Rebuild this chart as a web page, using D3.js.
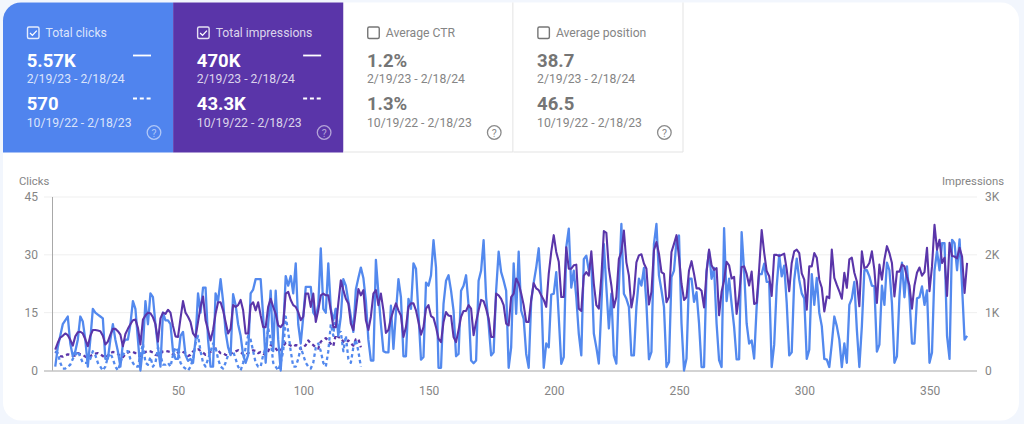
<!DOCTYPE html>
<html><head><meta charset="utf-8">
<script src="https://cdn.jsdelivr.net/npm/d3@7/dist/d3.min.js"></script>
<style>
html,body{margin:0;padding:0;background:#f2f6fd;width:1024px;height:424px;overflow:hidden;font-family:Roboto,sans-serif}
svg{display:block}
text{font-family:Roboto,sans-serif}
</style></head><body><svg id="c" width="1024" height="424"></svg>
<script>
const clicksCurrent=[
1,6,9,12,13,14,7,3.7,5,8,
14,12.7,8,1,8,16,15,14.5,14,13.5,
3,3,8,12,8,5,1,7,8,8,
12,18,16,8,0,6,18,12,20,19,
12,6,1,15,13,13,12,5,3,3,
9,10,4,2.5,3,2,8,20,15,21.5,
21.5,8,1,1,20,18,23.7,18,10,6,
4,19.8,17,12,9,4,2,4,20,21,
23.7,23.7,23.7,14,2,12,20.7,5,20.7,8,
0,10,24.5,22,24.5,20,27.8,12,7,14,
21.7,21.7,21.7,15,14,17,31.7,16,15,27.8,
16,13,16,9,14,23.7,22,18,14,10,
21,24,26.7,24,18,8,2.6,2.6,28.7,20,
12,5,4.7,4.7,16.8,5.6,15,23.7,19,3.7,
3.7,18.6,16,27.8,26.4,14.7,2.8,3.5,22.8,22,
24.7,33.8,26.7,0.7,0.7,17.3,23.3,24.7,20.7,15.5,
3.7,4.3,20.7,22,24.7,16.8,2.6,1.9,2.6,23.3,
25.9,33.8,19,12,3.9,4.7,20.7,30.8,25.5,23.3,
20.7,0.7,6,27.8,14.7,30.8,15.5,13.4,4.3,0.7,
18,22.8,26.7,31.7,20.7,0.7,7,6,19.7,19.9,
25.5,13.8,1.7,3.5,32,36.8,21.5,25.9,19,9.5,
3.9,28.9,29.8,25.9,28,9.6,6,1.8,16.5,32.8,
21.6,10.9,19.9,3.9,1.8,21.6,38,19.9,18.6,16.5,
3.9,3.9,16.5,23.8,22,26.6,17.3,2.9,4.8,32.8,
38,24.7,20.8,16.5,0.9,2.2,24.2,25.9,33.7,35,
12.2,0,3.1,23.8,23.8,17.8,20.3,12.2,0.9,0.9,
25.9,30.9,23.8,26.6,12.2,2.7,0.9,36.9,18,23.8,
17.3,11.3,2.9,2.9,35.9,25.9,12.2,7,7.8,3.1,
16.5,25,25,27.7,23,23,0.9,6.7,21.8,30,
24.4,27.2,17.5,3.9,4.7,23.5,29,23.5,20,18.7,
3,5.4,25,17,24,15,11.5,3,2.8,0.9,
7,14,11.5,8,0.9,7,2,17,18.7,23,
10.6,0.9,11.5,26,26,24.4,22,21.8,4.9,6.7,
22,17,28,26,17.5,2,3.7,19,28,19,
27,19,7,7,18.7,19,21.8,17,20.8,2,
4.7,26,31,26,33,33,9,3,33.9,33,
26,34,21.8,8,9];
const impressionsCurrent=[
360,480,570,600,640,610,530,430,590,660,
670,640,540,420,600,700,700,690,680,600,
450,500,620,720,720,680,620,420,630,720,
800,870,880,740,450,880,950,1000,990,920,
800,500,900,1000,980,1050,1000,770,590,580,
900,1200,1000,930,840,640,580,840,1100,1280,
870,700,520,700,980,1180,1180,1040,840,640,
720,1130,1100,1130,1220,1040,640,640,1130,1180,
1040,1180,950,750,750,1100,1240,1100,980,780,
750,810,1330,1360,1220,1130,1100,1010,870,930,
1330,1330,1100,1330,840,1040,1300,1330,1300,1300,
1040,750,750,1160,1560,1390,1240,1160,810,700,
1040,1410,1300,1390,870,700,930,1330,1390,1130,
1330,1040,650,700,900,1040,1160,1040,950,580,
750,1100,1160,1160,1040,840,620,750,1070,1130,
940,910,750,550,490,840,1010,950,940,580,
490,700,930,1030,1030,1130,1070,610,840,1040,
1220,1200,1070,900,580,580,1330,1300,1240,1130,
810,780,1270,1330,1590,1500,1330,1130,840,840,
1220,1510,1420,1390,1300,1220,1100,1670,2050,2340,
2050,1880,1270,1270,2130,1760,1760,1820,1830,1070,
1030,1640,1700,1640,2060,1500,1130,1070,1620,2410,
2380,1760,1470,1090,1270,1930,2050,2420,1870,1640,
1090,1330,1870,1990,2010,1850,1760,1140,1360,2080,
2220,2020,1700,1670,1180,1270,2050,2190,2340,1960,
1500,1220,1270,1730,1890,1670,1420,1420,1380,1090,
1700,2090,1820,1740,1770,955,1360,1560,1880,1820,
1590,1620,980,1300,1790,1800,1670,1470,1710,1150,
1170,1760,2430,2040,1720,1630,1290,2000,2000,1980,
2000,2020,1750,1370,1860,2060,2090,2030,1680,1570,
1050,1800,1800,2030,1950,1570,1430,1020,1280,1250,
2090,1600,1480,1370,1240,1690,1430,1920,1950,1690,
1540,1110,2060,1770,1790,1860,2060,1740,1170,1830,
1570,1920,2150,2030,1860,1280,1710,1710,1830,1800,
1620,1470,1070,1470,1690,1780,1640,1700,2120,1370,
1800,2520,2090,2260,1860,1950,1290,2210,1980,1970,
1940,2120,1970,1340,1860];
const clicksPrevious=[
5,4.5,2,0.5,0.5,1,1.5,3,4,5,
3.5,2,2,2,3,5,4,2,1,0,
1,3.5,4.5,3,1,0,2,4,5,5,
3,2,1,1,4,7,2,1.5,3.5,1,
2,6,4,1.5,1.5,2,1,4,6,5,
2,1,0.5,0,1,3,7,9,5,2,
1,3,5,7,6,3,1,0.5,2,4,
5,5,3,1,0,2,6,9,8,5,
2,1,1,4,6,11,8,2,1,0,
2,5,14,10,5,1,1,3,6,4,
2,1,0.5,2,6,7,5,2,1,5,
12,9,16,10,10,5,9,3,2,6,
8,5,1];
const impressionsPrevious=[
330,290,250,240,260,280,270,250,260,300,
280,270,240,220,250,270,290,300,280,250,
220,260,300,320,310,290,240,230,280,310,
330,320,300,260,250,290,320,340,330,310,
270,260,290,330,340,330,320,280,260,310,
340,320,300,250,270,330,360,370,340,310,
270,290,320,370,380,350,300,300,270,260,
290,310,330,350,320,280,270,300,330,350,
340,300,320,290,270,330,440,420,380,330,
350,420,480,460,430,410,440,430,370,400,
440,520,470,440,400,380,500,530,560,520,
460,420,620,580,560,500,480,520,470,430,
540,550,400];
const clickTicks=[0,15,30,45];
const imprTicks=[0,1000,2000,3000];
const imprTickLabels=["0","1K","2K","3K"];
const dayTicks=[50,100,150,200,250,300,350];
const tiles=[
 {t:"Total clicks",a:"5.57K",b:"570",on:true,bg:"#5084ee"},
 {t:"Total impressions",a:"470K",b:"43.3K",on:true,bg:"#5a35a9"},
 {t:"Average CTR",a:"1.2%",b:"1.3%",on:false,bg:"#fff"},
 {t:"Average position",a:"38.7",b:"46.5",on:false,bg:"#fff"}];
const rangeA="2/19/23 - 2/18/24",rangeB="10/19/22 - 2/18/23";

const svg=d3.select("#c");
svg.append("rect").attr("x",3).attr("y",2.5).attr("width",1016).attr("height",418).attr("rx",18).attr("fill","#fff");

const x=d3.scaleLinear().domain([50,350]).range([178,929.5]);
const yC=d3.scaleLinear().domain([0,45]).range([370.5,197]);
const yI=d3.scaleLinear().domain([0,3000]).range([370.5,197]);

// tiles
const tileX=d3.scaleBand().domain(d3.range(4)).range([3,683.5]);
tiles.forEach((d,i)=>{
 const x0=tileX(i),w=tileX.bandwidth();
 const g=svg.append("g").attr("transform",`translate(${x0},2.5)`);
 if(i===0) g.append("path").attr("d",`M0,150 V18 A18,18 0 0 1 18,0 H${w} V150 Z`).attr("fill",d.bg);
 else if(d.on) g.append("rect").attr("width",w).attr("height",150).attr("fill",d.bg);
 else g.append("path").attr("d",`M0,149.5 H${w-.5} V0`).attr("fill","none").attr("stroke","#e3e3e3").attr("stroke-width",1);
 const fg=d.on?"#fff":"#757575", sub=d.on?"rgba(255,255,255,.8)":"#858585";
 g.append("rect").attr("x",24.5).attr("y",24.5).attr("width",11.5).attr("height",11.5).attr("rx",1.5).attr("fill","none").attr("stroke",d.on?"rgba(255,255,255,.85)":"#757575").attr("stroke-width",1.4);
 if(d.on) g.append("path").attr("d","M27,30.5 l2.4,2.4 l4.4,-4.8").attr("fill","none").attr("stroke","#fff").attr("stroke-width",1.3);
 g.append("text").attr("x",42.5).attr("y",34.8).attr("font-size",12.2).attr("fill",sub).text(d.t);
 g.append("text").attr("x",23.7).attr("y",64.5).attr("font-size",18.5).attr("font-weight",700).attr("fill",fg).text(d.a);
 g.append("text").attr("x",23.7).attr("y",80).attr("font-size",12.2).attr("fill",sub).text(rangeA);
 g.append("text").attr("x",23.7).attr("y",107).attr("font-size",18.5).attr("font-weight",700).attr("fill",fg).text(d.b);
 g.append("text").attr("x",23.7).attr("y",124).attr("font-size",12.2).attr("fill",sub).text(rangeB);
 if(d.on){
  g.append("line").attr("x1",130).attr("x2",148).attr("y1",53).attr("y2",53).attr("stroke","#fff").attr("stroke-width",1.8);
  g.append("line").attr("x1",130).attr("x2",148).attr("y1",96).attr("y2",96).attr("stroke","#fff").attr("stroke-width",1.8).attr("stroke-dasharray","4 2.8");
 }
 const hc=d.on?"rgba(255,255,255,.55)":"#8a8a8a";
 g.append("circle").attr("cx",151).attr("cy",130).attr("r",6.8).attr("fill","none").attr("stroke",hc).attr("stroke-width",1.3);
 g.append("text").attr("x",151).attr("y",134).attr("text-anchor","middle").attr("font-size",10.5).attr("fill",hc).text("?");
});

// axes
const gridG=svg.append("g");
gridG.selectAll("line").data(clickTicks.slice(1)).join("line")
 .attr("x1",44).attr("x2",977).attr("y1",d=>yC(d)).attr("y2",d=>yC(d)).attr("stroke","#efefef");
const labelColor="#858585";
const left=svg.append("g").attr("transform","translate(38,0)").call(d3.axisLeft(yC).tickValues(clickTicks).tickSize(0).tickPadding(0));
const right=svg.append("g").attr("transform","translate(985,0)").call(d3.axisRight(yI).tickValues(imprTicks).tickFormat((d,i)=>imprTickLabels[i]).tickSize(0).tickPadding(0));
const bottom=svg.append("g").attr("transform","translate(0,394.5)").call(d3.axisBottom(x).tickValues(dayTicks).tickSize(0).tickPadding(0));
[left,right,bottom].forEach(a=>{a.select(".domain").remove();a.selectAll("text").attr("font-size",12).attr("fill",labelColor).style("font-family","Roboto,sans-serif");});
bottom.selectAll("text").attr("dy","0");
svg.append("line").attr("x1",52.5).attr("x2",52.5).attr("y1",197).attr("y2",371).attr("stroke","#a8a8a8");
svg.append("line").attr("x1",44).attr("x2",977).attr("y1",371).attr("y2",371).attr("stroke","#c4c4c4").attr("stroke-width",1.5);
svg.append("text").attr("x",19).attr("y",185).attr("font-size",11.3).attr("fill",labelColor).text("Clicks");
svg.append("text").attr("x",1004).attr("y",185).attr("text-anchor","end").attr("font-size",11.3).attr("fill",labelColor).text("Impressions");

// lines
const line=(arr,y)=>d3.line().x((d,i)=>x(i+1)).y(d=>y(d))(arr);
const blue="#5389ee",purple="#5a35a9";
const draw=(arr,y,c,w,dash)=>svg.append("path").attr("d",line(arr,y)).attr("fill","none").attr("stroke",c).attr("stroke-width",w).attr("stroke-linejoin","round").attr("stroke-dasharray",dash);
draw(impressionsPrevious,yI,purple,2.3,"3.5 3");
draw(clicksPrevious,yC,blue,2.3,"3.5 3");
draw(clicksCurrent,yC,blue,2.3,null);
draw(impressionsCurrent,yI,purple,2.1,null);
</script></body></html>
